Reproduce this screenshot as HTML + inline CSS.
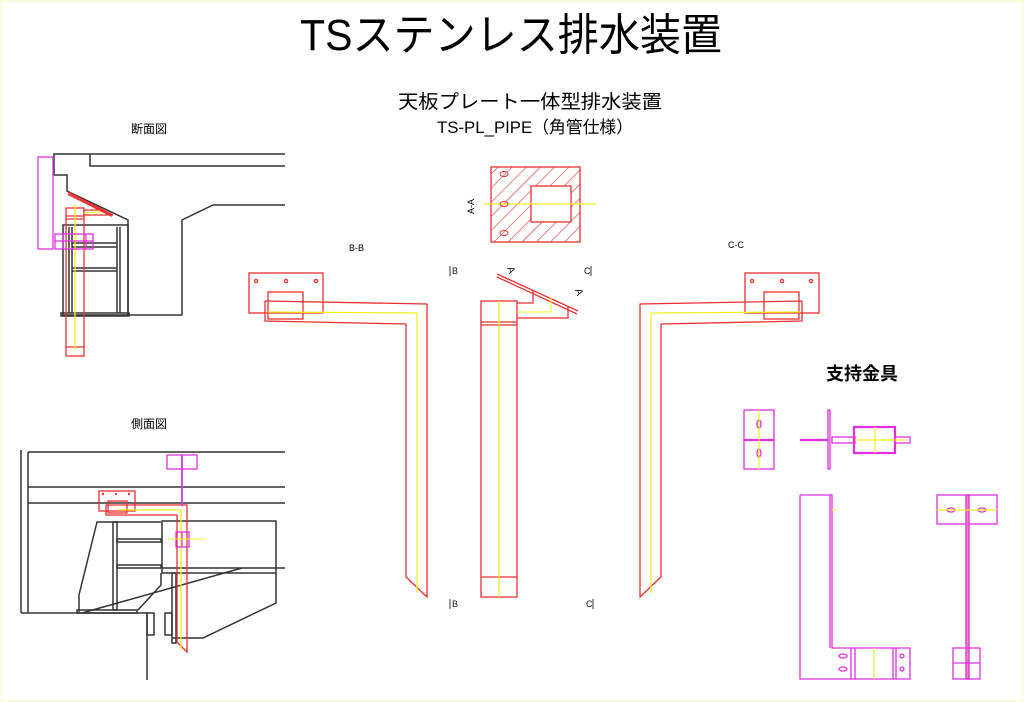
<!DOCTYPE html>
<html><head><meta charset="utf-8"><style>
html,body{margin:0;padding:0;background:#fff}
svg{display:block}
text{font-family:"Liberation Sans","Noto Sans CJK JP",sans-serif}
</style></head><body>
<svg width="1024" height="702" viewBox="0 0 1024 702" xmlns="http://www.w3.org/2000/svg">
<defs>
<pattern id="h" width="10" height="10" patternUnits="userSpaceOnUse" patternTransform="rotate(45)">
<line x1="0" y1="0" x2="0" y2="10" stroke="#e03030" stroke-width="1.2"/></pattern>
</defs>
<rect x="0" y="0" width="1024" height="702" fill="#fff"/>
<rect x="1" y="1" width="1022" height="700" fill="none" stroke="#fbfbe0" stroke-width="3"/>
<text x="300" y="50" font-size="44" textLength="422" lengthAdjust="spacingAndGlyphs" font-family="Noto Sans CJK JP,sans-serif">TSステンレス排水装置</text>
<text x="398" y="108" font-size="19" textLength="264" lengthAdjust="spacingAndGlyphs" font-family="Noto Sans CJK JP,sans-serif">天板プレート一体型排水装置</text>
<text x="437" y="133" font-size="17" textLength="196" lengthAdjust="spacingAndGlyphs" font-family="Noto Sans CJK JP,sans-serif">TS-PL_PIPE（角管仕様）</text>
<text x="131" y="133" font-size="12" font-family="Noto Sans CJK JP,sans-serif">断面図</text>
<text x="131" y="428" font-size="12" font-family="Noto Sans CJK JP,sans-serif">側面図</text>
<text x="826" y="380" font-size="18" font-weight="bold" font-family="Noto Sans CJK JP,sans-serif">支持金具</text>
<text x="349" y="251" font-size="9">B-B</text>
<text x="728" y="248" font-size="9">C-C</text>

<!-- Section view -->
<g fill="none" stroke="#333" stroke-width="1.5">
<polyline points="285,154 54,154 54,175 67,175 67,191 128,220 128,315 182,315 182,220 213,205 285,205"/>
<polyline points="90,154 90,166 285,166"/>
<rect x="63" y="225" width="65" height="90"/>
<line x1="69" y1="227" x2="69" y2="313"/><line x1="72" y1="227" x2="72" y2="313"/>
<line x1="117" y1="227" x2="117" y2="313"/><line x1="120" y1="227" x2="120" y2="313"/>
<line x1="72" y1="243" x2="117" y2="243"/><line x1="72" y1="247" x2="117" y2="247"/>
<line x1="72" y1="268" x2="117" y2="268"/><line x1="72" y1="271" x2="117" y2="271"/>
<rect x="61" y="313" width="68" height="3"/>
</g>
<g fill="none" stroke="#e83030" stroke-width="1.3">
<rect x="66" y="208" width="18" height="148"/>
<line x1="66" y1="216" x2="84" y2="216"/><line x1="66" y1="219" x2="84" y2="219"/><line x1="66" y1="347" x2="84" y2="347"/>
<polyline points="68,192 113,215 84,215 84,210 101,210"/>
<line x1="68" y1="194" x2="112" y2="216" stroke-width="2"/>
</g>
<line x1="75" y1="204" x2="75" y2="350" stroke="#f0f020" stroke-width="1.3"/>
<line x1="84" y1="213" x2="101" y2="212" stroke="#f0f020"/>
<g fill="none" stroke="#e030e0" stroke-width="1.3">
<rect x="38" y="157" width="15" height="92"/>
<rect x="55" y="234" width="38" height="15"/>
<line x1="55" y1="241" x2="93" y2="241"/><line x1="63" y1="234" x2="63" y2="249"/><line x1="86" y1="234" x2="86" y2="249"/>
</g>

<!-- Side view -->
<g fill="none" stroke="#333" stroke-width="1.5">
<line x1="21" y1="450" x2="21" y2="613"/><line x1="28" y1="452" x2="28" y2="613"/>
<line x1="28" y1="452" x2="285" y2="452"/><line x1="28" y1="487" x2="285" y2="487"/><line x1="28" y1="503" x2="285" y2="503"/>
<line x1="21" y1="613" x2="148" y2="613"/>
<polyline points="161,522 97,522 79,595 79,612"/>
<rect x="113" y="522" width="4" height="88"/>
<rect x="117" y="539" width="44" height="3"/><rect x="117" y="565" width="44" height="3"/>
<rect x="162" y="521" width="114" height="52"/>
<line x1="162" y1="568" x2="285" y2="568"/>
<polyline points="276,573 276,603 203,638 172,638"/>
<polyline points="161,573 161,585 138,610"/>
<rect x="172" y="573" width="4" height="70"/>
<rect x="77" y="610" width="60" height="3"/>
<line x1="82" y1="613" x2="242" y2="568"/>
<rect x="147" y="613" width="7" height="22"/><rect x="165" y="613" width="7" height="22"/>
<line x1="147" y1="613" x2="147" y2="680"/>
</g>
<g fill="none" stroke="#e83030" stroke-width="1.3">
<rect x="99" y="491" width="36" height="20"/>
<rect x="108" y="501" width="19" height="12"/>
<polyline points="106,505 187,505 187,652 177,642 177,515 106,515 106,505"/>
</g>
<g fill="#e83030"><circle cx="103" cy="494" r="1.2"/><circle cx="116" cy="494" r="1.2"/><circle cx="129" cy="494" r="1.2"/></g>
<polyline points="118,510 181,510 181,650" fill="none" stroke="#f0f020" stroke-width="1.3"/>
<g fill="none" stroke="#e030e0" stroke-width="1.3">
<rect x="167" y="455" width="30" height="14"/>
<line x1="182" y1="455" x2="182" y2="506" stroke-width="1.8"/>
<rect x="176" y="532" width="13" height="15"/>
<line x1="182" y1="532" x2="182" y2="547"/>
</g>
<line x1="168" y1="539" x2="205" y2="539" stroke="#f0f020"/>

<!-- B-B -->
<g fill="none" stroke="#e83030" stroke-width="1.3">
<rect x="249" y="273" width="74" height="40"/>
<rect x="268" y="292" width="35" height="27"/>
<polyline points="265,301 427,304 427,597 406,577 406,324 265,321 265,301"/>
<circle cx="256" cy="281" r="1.6"/><circle cx="286" cy="281" r="1.6"/><circle cx="316" cy="281" r="1.6"/>
</g>
<polyline points="268,312 417,313 417,593" fill="none" stroke="#f0f020" stroke-width="1.3"/>

<!-- C-C -->
<g fill="none" stroke="#e83030" stroke-width="1.3">
<rect x="745" y="273" width="74" height="40"/>
<rect x="764" y="292" width="35" height="27"/>
<polyline points="802,301 640,304 640,597 661,577 661,324 802,321 802,301"/>
<circle cx="752" cy="281" r="1.6"/><circle cx="782" cy="281" r="1.6"/><circle cx="811" cy="281" r="1.6"/>
</g>
<polyline points="800,312 651,313 651,593" fill="none" stroke="#f0f020" stroke-width="1.3"/>

<!-- A-A -->
<rect x="491" y="167" width="89" height="75" fill="url(#h)" stroke="#e83030" stroke-width="1.3"/>
<rect x="531" y="186" width="40" height="36" fill="#fff" stroke="#e83030" stroke-width="1.3"/>
<line x1="484" y1="204" x2="596" y2="204" stroke="#f0f020" stroke-width="1.3"/>
<g fill="none" stroke="#e83030"><ellipse cx="504" cy="174" rx="4" ry="2.5"/><ellipse cx="504" cy="204" rx="4" ry="2.5"/><ellipse cx="504" cy="233" rx="4" ry="2.5"/></g>
<text x="0" y="0" font-size="9" transform="translate(474,214) rotate(-90)">A-A</text>

<!-- middle pipe -->
<g fill="none" stroke="#e83030" stroke-width="1.3">
<rect x="481" y="301" width="36" height="296"/>
<line x1="481" y1="322" x2="517" y2="322"/><line x1="481" y1="325" x2="517" y2="325"/><line x1="481" y1="577" x2="517" y2="577"/>
<line x1="497" y1="274" x2="578" y2="311"/><line x1="497" y1="277" x2="577" y2="314"/>
<polyline points="517,303 533,303 533,291"/>
<polyline points="517,318 568,318 568,306"/>
</g>
<line x1="499" y1="301" x2="499" y2="597" stroke="#f0f020" stroke-width="1.3"/>
<polyline points="517,312 551,312 551,298" fill="none" stroke="#f0f020"/>
<g font-size="9" fill="#111">
<text x="452" y="274">B</text><text x="452" y="607">B</text>
<text x="584" y="274">C</text><text x="586" y="607">C</text>
<text x="0" y="0" font-size="10" transform="translate(507,268) rotate(70)">A</text>
<text x="0" y="0" font-size="10" transform="translate(575,290) rotate(70)">A</text>
</g>
<g stroke="#333" fill="none"><line x1="450" y1="266" x2="450" y2="276"/><line x1="450" y1="599" x2="450" y2="609"/><line x1="591" y1="266" x2="591" y2="276"/><line x1="593" y1="599" x2="593" y2="609"/></g>

<!-- supports -->
<g fill="none" stroke="#e030e0" stroke-width="1.3">
<rect x="744" y="410" width="30" height="59"/>
<line x1="744" y1="440" x2="774" y2="440" stroke-width="2.2"/>
<ellipse cx="759" cy="424" rx="2" ry="4"/><ellipse cx="759" cy="453" rx="2" ry="4"/>
<rect x="828" y="410" width="2" height="59"/>
<line x1="800" y1="440" x2="828" y2="440" stroke-width="2.2"/>
<rect x="832" y="437" width="23" height="6"/>
<rect x="854" y="427" width="41" height="26" stroke-width="2.2"/>
<rect x="895" y="437" width="15" height="6"/>
<polyline points="800,495 832,495 832,648 910,648 910,679 800,679 800,495"/>
<line x1="830" y1="495" x2="830" y2="648"/>
<line x1="851" y1="648" x2="851" y2="679"/><line x1="855" y1="648" x2="855" y2="679"/>
<line x1="893" y1="648" x2="893" y2="679"/><line x1="896" y1="648" x2="896" y2="679"/>
<ellipse cx="843" cy="656" rx="4" ry="2"/><ellipse cx="843" cy="669" rx="4" ry="2"/>
<circle cx="902" cy="656" r="2"/><circle cx="902" cy="669" r="2"/>
<rect x="937" y="495" width="60" height="29"/>
<rect x="966" y="495" width="3" height="184" fill="#e888c8"/>
<rect x="953" y="648" width="27" height="31"/>
<line x1="953" y1="663" x2="980" y2="663"/>
<ellipse cx="951" cy="510" rx="4" ry="2"/><ellipse cx="982" cy="510" rx="4" ry="2"/>
</g>
<g stroke="#f0f020" stroke-width="1.2">
<line x1="759" y1="410" x2="759" y2="469"/>
<line x1="855" y1="440" x2="905" y2="440"/><line x1="875" y1="427" x2="875" y2="453"/>
<line x1="874" y1="648" x2="874" y2="679"/>
<line x1="832" y1="510" x2="836" y2="510"/>
<line x1="937" y1="510" x2="997" y2="510"/>
</g>
</svg>
</body></html>
